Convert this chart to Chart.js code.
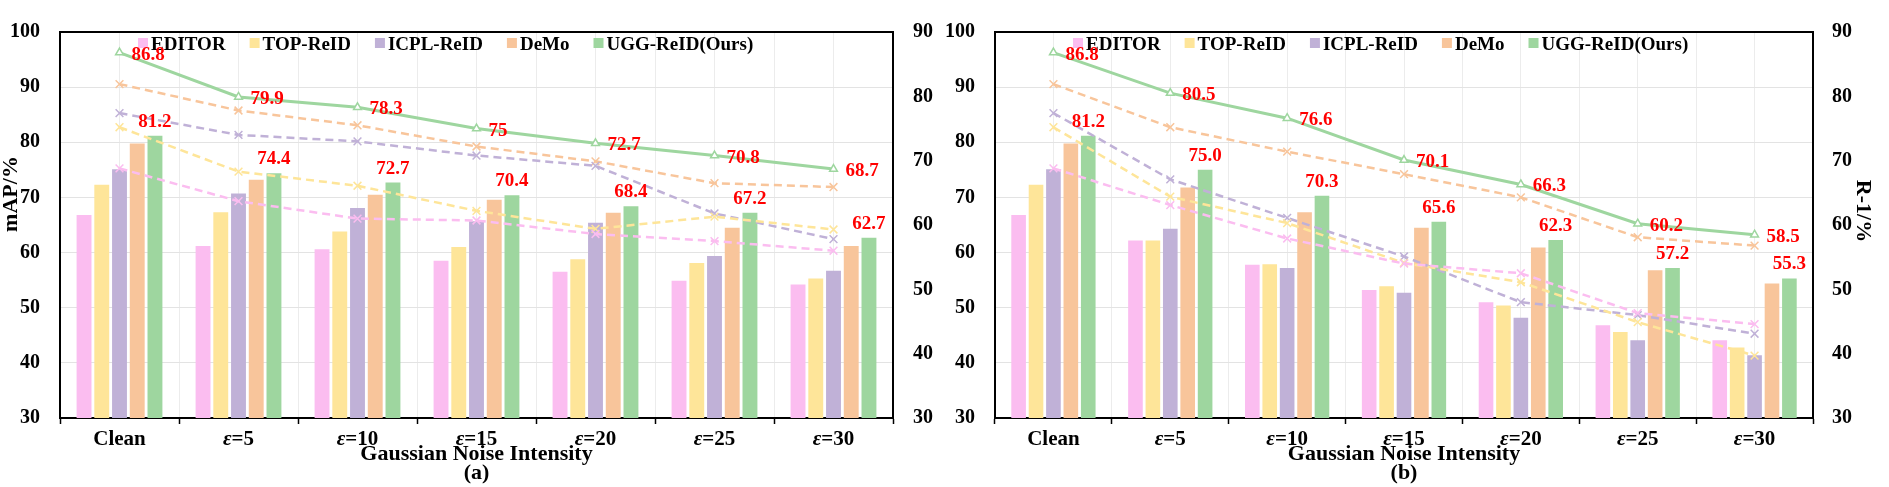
<!DOCTYPE html>
<html>
<head>
<meta charset="utf-8">
<script src="https://cdn.jsdelivr.net/npm/chart.js@4.4.1/dist/chart.umd.min.js"></script>
<style>
html, body { margin: 0; padding: 0; background: #fff; }
#wrapA { position: absolute; left: 0; top: 0; width: 940px; height: 487px; }
#wrapB { position: absolute; left: 940px; top: 0; width: 949px; height: 487px; }
</style>
</head>
<body>
<div id="wrapA"><canvas id="chartA"></canvas></div>
<div id="wrapB"><canvas id="chartB"></canvas></div>
<script>
/* ==========================================
DATA
========================================== */

const categories = ["Clean", "ε=5", "ε=10", "ε=15", "ε=20", "ε=25", "ε=30"];
const methods = ["EDITOR", "TOP-ReID", "ICPL-ReID", "DeMo", "UGG-ReID(Ours)"];
const colors = ["#FBBDF0", "#FEE599", "#C0B1D7", "#F8C59B", "#9ED69F"];

const leftTicks = [30, 40, 50, 60, 70, 80, 90, 100];
const rightTicks = [30, 40, 50, 60, 70, 80, 90];

// (a) bars, left axis
const aBarEditor = [66.8, 61.2, 60.6, 58.5, 56.5, 54.9, 54.2];
const aBarTop    = [72.3, 67.3, 63.8, 61.0, 58.8, 58.1, 55.3];
const aBarIcpl   = [75.1, 70.7, 68.1, 65.7, 65.4, 59.4, 56.7];
const aBarDemo   = [79.8, 73.2, 70.5, 69.6, 67.2, 64.5, 61.2];
const aBarOurs   = [81.2, 74.4, 72.7, 70.4, 68.4, 67.2, 62.7];

// (a) lines, right axis
const aLineEditor = [68.8, 63.7, 61.0, 60.7, 58.6, 57.5, 56.0];
const aLineTop    = [75.2, 68.3, 66.1, 62.2, 59.4, 61.3, 59.3];
const aLineIcpl   = [77.4, 74.0, 73.0, 70.8, 69.2, 61.8, 57.8];
const aLineDemo   = [81.9, 77.8, 75.5, 72.2, 69.9, 66.5, 65.9];
const aLineOurs   = [86.8, 79.9, 78.3, 75, 72.7, 70.8, 68.7];

// (b) bars, left axis
const bBarEditor = [66.8, 62.2, 57.8, 53.2, 51.0, 46.8, 44.1];
const bBarTop    = [72.3, 62.2, 57.9, 53.9, 50.4, 45.6, 42.8];
const bBarIcpl   = [75.1, 64.3, 57.2, 52.7, 48.2, 44.1, 41.4];
const bBarDemo   = [79.8, 71.8, 67.3, 64.5, 60.9, 56.8, 54.4];
const bBarOurs   = [81.2, 75.0, 70.3, 65.6, 62.3, 57.2, 55.3];

// (b) lines, right axis
const bLineEditor = [68.8, 63.1, 57.9, 54.0, 52.5, 46.3, 44.6];
const bLineTop    = [75.2, 64.4, 60.3, 54.1, 51.1, 44.9, 39.7];
const bLineIcpl   = [77.4, 67.1, 61.1, 55.1, 48.0, 46.0, 43.1];
const bLineDemo   = [81.9, 75.2, 71.4, 67.9, 64.3, 58.1, 56.8];
const bLineOurs   = [86.8, 80.5, 76.6, 70.1, 66.3, 60.2, 58.5];

const SERIF = '"Liberation Serif", "Times New Roman", serif';

/* ==========================================
EXTRA DRAWING (legend, labels, titles)
========================================== */

function makeDecor(p) {
  return {
    id: "decor",
    afterDraw(chart) {
      const ctx = chart.ctx;
      const area = chart.chartArea;
      const xs = chart.scales.x;
      ctx.save();

      // category labels with italic epsilon
      ctx.fillStyle = "#000";
      ctx.textBaseline = "alphabetic";
      categories.forEach((c, i) => {
        const x = xs.getPixelForValue(i);
        const y = area.bottom + 27;
        if (c.startsWith("ε")) {
          const rest = c.slice(1);
          ctx.font = "italic bold 21px " + SERIF;
          const w1 = ctx.measureText("ε").width;
          ctx.font = "bold 21px " + SERIF;
          const w2 = ctx.measureText(rest).width;
          const x0 = x - (w1 + w2) / 2;
          ctx.textAlign = "left";
          ctx.font = "italic bold 21px " + SERIF;
          ctx.fillText("ε", x0, y);
          ctx.font = "bold 21px " + SERIF;
          ctx.fillText(rest, x0 + w1, y);
        } else {
          ctx.font = "bold 21px " + SERIF;
          ctx.textAlign = "center";
          ctx.fillText(c, x, y);
        }
      });

      // legend inside the plot
      ctx.font = "bold 19px " + SERIF;
      ctx.textAlign = "left";
      let lx = area.left + 78;
      methods.forEach((m, i) => {
        ctx.fillStyle = colors[i];
        ctx.fillRect(lx, area.top + 6, 10, 10);
        lx += 13;
        ctx.fillStyle = "#000";
        ctx.fillText(m, lx, area.top + 17.5);
        lx += ctx.measureText(m).width + 24;
      });

      // red value labels
      ctx.fillStyle = "#FF0000";
      ctx.font = "bold 19px " + SERIF;
      const barMeta = chart.getDatasetMeta(4);
      ctx.textAlign = "center";
      barMeta.data.forEach((el, j) => {
        ctx.fillText(p.barFmt(p.bars[4][j]), el.x, el.y - 9);
      });
      const lineMeta = chart.getDatasetMeta(9);
      ctx.textAlign = "left";
      lineMeta.data.forEach((el, j) => {
        ctx.fillText(p.lineFmt(p.lines[4][j]), el.x + 12, el.y + 7);
      });

      // vertical axis title
      ctx.fillStyle = "#000";
      ctx.font = "bold 22px " + SERIF;
      ctx.textAlign = "center";
      ctx.textBaseline = "alphabetic";
      ctx.translate(p.yTitleX, p.yTitleY);
      ctx.rotate(p.yTitleRot);
      ctx.fillText(p.yTitle, 0, 0);

      ctx.restore();
    }
  };
}

/* ==========================================
CHART BUILDER
========================================== */

function buildChart(id, p) {
  const datasets = [];
  methods.forEach((m, i) => {
    datasets.push({
      type: "bar",
      label: m,
      data: p.bars[i],
      backgroundColor: colors[i],
      borderWidth: 0,
      yAxisID: "y",
      order: 3,
      barPercentage: 0.84,
      categoryPercentage: 0.745
    });
  });
  methods.forEach((m, i) => {
    const ours = i === 4;
    datasets.push({
      type: "line",
      label: m + " line",
      data: p.lines[i],
      yAxisID: "y2",
      borderColor: colors[i],
      borderWidth: ours ? 3 : 2.5,
      borderDash: ours ? [] : [8, 5],
      pointStyle: ours ? "triangle" : "crossRot",
      pointRadius: ours ? 4.5 : 5.5,
      pointBorderWidth: 1.5,
      pointBorderColor: colors[i],
      pointBackgroundColor: "#fff",
      fill: false,
      tension: 0,
      order: ours ? 1 : 2
    });
  });

  const tickFont = { family: SERIF, weight: "bold", size: 20 };

  return new Chart(document.getElementById(id), {
    data: { labels: categories, datasets: datasets },
    options: {
      responsive: true,
      maintainAspectRatio: false,
      animation: false,
      layout: { padding: 0 },
      plugins: {
        legend: { display: false },
        tooltip: { enabled: false }
      },
      scales: {
        x: {
          type: "category",
          offset: true,
          grid: { offset: true, color: "#ececec", lineWidth: 1, drawTicks: true, tickLength: 6, tickColor: "#000", tickWidth: 1.5 },
          border: { color: "#000", width: 2 },
          ticks: { display: false },
          title: {
            display: true,
            text: ["Gaussian Noise Intensity", p.tag],
            color: "#000",
            font: { family: SERIF, weight: "bold", size: 22, lineHeight: 0.87 },
            padding: { top: 0, bottom: 4 }
          },
          afterFit: s => { s.height = 69; }
        },
        x2: {
          type: "category",
          position: "top",
          offset: true,
          grid: { offset: false, color: "#ececec", lineWidth: 1, drawTicks: false },
          border: { color: "#000", width: 2 },
          ticks: { display: false },
          afterFit: s => { s.height = 10; }
        },
        y: {
          position: "left",
          min: leftTicks[0],
          max: leftTicks[leftTicks.length - 1],
          afterBuildTicks: s => { s.ticks = leftTicks.map(v => ({ value: v })); },
          ticks: { padding: 20, color: "#000", font: tickFont },
          grid: { color: "#e3e3e3", lineWidth: 1, drawTicks: false },
          border: { color: "#000", width: 2 },
          afterFit: s => { s.width = p.leftW; }
        },
        y2: {
          position: "right",
          min: rightTicks[0],
          max: rightTicks[rightTicks.length - 1],
          afterBuildTicks: s => { s.ticks = rightTicks.map(v => ({ value: v })); },
          ticks: { padding: p.rightPad, color: "#000", font: tickFont },
          grid: { display: false, drawTicks: false },
          border: { color: "#000", width: 2 },
          afterFit: s => { s.width = p.rightW; }
        }
      }
    },
    plugins: [makeDecor(p)]
  });
}

/* ==========================================
PANEL (a) mAP
========================================== */

buildChart("chartA", {
  tag: "(a)",
  bars: [aBarEditor, aBarTop, aBarIcpl, aBarDemo, aBarOurs],
  lines: [aLineEditor, aLineTop, aLineIcpl, aLineDemo, aLineOurs],
  barFmt: v => v.toFixed(1),
  lineFmt: v => String(v),
  leftW: 60,
  rightW: 47,
  rightPad: 20,
  yTitle: "mAP/%",
  yTitleX: 17,
  yTitleY: 194,
  yTitleRot: -Math.PI / 2
});

/* ==========================================
PANEL (b) R-1
========================================== */

buildChart("chartB", {
  tag: "(b)",
  bars: [bBarEditor, bBarTop, bBarIcpl, bBarDemo, bBarOurs],
  lines: [bLineEditor, bLineTop, bLineIcpl, bLineDemo, bLineOurs],
  barFmt: v => v.toFixed(1),
  lineFmt: v => v.toFixed(1),
  leftW: 55,
  rightW: 76,
  rightPad: 19,
  yTitle: "R-1/%",
  yTitleX: 917,
  yTitleY: 211,
  yTitleRot: Math.PI / 2
});
</script>
</body>
</html>
